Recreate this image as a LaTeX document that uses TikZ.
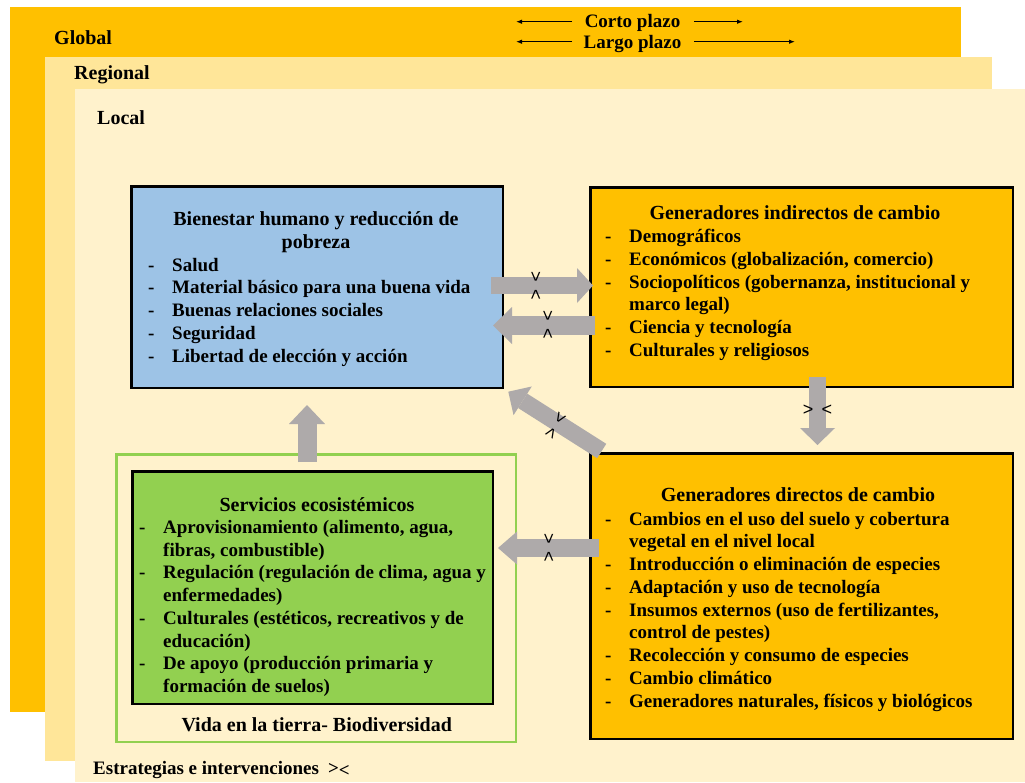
\documentclass[tikz,border=0pt]{standalone}
\usepackage{fontspec}
\setmainfont{Liberation Serif}
\newfontfamily\lsans{Liberation Sans}
\usetikzlibrary{arrows.meta}
\definecolor{cglobal}{HTML}{FFC000}
\definecolor{cregional}{HTML}{FFE699}
\definecolor{clocal}{HTML}{FFF2CC}
\definecolor{cblue}{HTML}{9DC3E6}
\definecolor{cgreen}{HTML}{92D050}
\definecolor{cgray}{HTML}{AEAAAA}
\begin{document}
\begin{tikzpicture}[x=1pt,y=-1pt,
  box/.style={draw=black,line width=2.5pt,inner sep=0pt},
  lbl/.style={inner sep=0pt,anchor=base west,font=\bfseries\fontsize{20}{24}\selectfont},
  ttl/.style={inner sep=0pt,anchor=base,font=\bfseries\fontsize{20}{24}\selectfont},
  lst/.style={inner sep=0pt,anchor=base west,font=\bfseries\fontsize{19}{22.75}\selectfont},
  albl/.style={inner sep=0pt,font=\lsans\fontsize{18}{18}\selectfont},
  thin/.style={line width=1.1pt,-{Latex[length=6pt,width=4.5pt]}},
]
\useasboundingbox (0,0) rectangle (1025,782);
% layers
\fill[cglobal] (10,7) rectangle (961,712);
\fill[cregional] (45,57) rectangle (992,761);
\fill[clocal] (75,89) rectangle (1025,782);
\node[lbl] (glob) at (54,44) {Global};
\node[lbl] (reg) at (74,79) {Regional};
\node[lbl] (loc) at (97,124) {Local};
% time scale
\node[ttl,font=\bfseries\fontsize{19}{22}\selectfont] (corto) at (632.5,27) {Corto plazo};
\node[ttl,font=\bfseries\fontsize{19}{22}\selectfont] (largo) at (632.5,48.5) {Largo plazo};
\coordinate (c1a) at (572,21.7); \coordinate (c1b) at (516,21.7);
\coordinate (c2a) at (694,21.7); \coordinate (c2b) at (743,21.7);
\coordinate (l1a) at (572,41.7); \coordinate (l1b) at (516,41.7);
\coordinate (l2a) at (694,41.7); \coordinate (l2b) at (795,41.7);
\draw[thin] (c1a) -- (c1b);
\draw[thin] (c2a) -- (c2b);
\draw[thin] (l1a) -- (l1b);
\draw[thin] (l2a) -- (l2b);
% boxes
\node[draw=cgreen,line width=2.5pt,inner sep=0pt,minimum width=399.5pt,minimum height=287.5pt] (vida) at (316,598) {};
\node[box,fill=cblue,minimum width=371.5pt,minimum height=201.5pt] (bien) at (317,287) {};
\node[box,fill=cglobal,minimum width=422.5pt,minimum height=199.5pt] (ind) at (801.5,287) {};
\node[box,fill=cglobal,minimum width=422.5pt,minimum height=285.5pt] (dir) at (801.5,596) {};
\node[box,fill=cgreen,minimum width=360.5pt,minimum height=232.5pt] (serv) at (312.5,587.5) {};
% texts
\node[ttl] (bt1) at (316,225) {Bienestar humano y reducción de};
\node[ttl] (bt2) at (316,248) {pobreza};
\node[lst] (bl) at (148,271) {\begin{tabular}[t]{@{}p{24pt}@{}l@{}}
-&Salud\\
-&Material básico para una buena vida\\
-&Buenas relaciones sociales\\
-&Seguridad\\
-&Libertad de elección y acción
\end{tabular}};
\node[ttl] (it) at (795,219.3) {Generadores indirectos de cambio};
\node[lst] (il) at (605,242.5) {\begin{tabular}[t]{@{}p{24pt}@{}l@{}}
-&Demográficos\\
-&Económicos (globalización, comercio)\\
-&Sociopolíticos (gobernanza, institucional y\\
&marco legal)\\
-&Ciencia y tecnología\\
-&Culturales y religiosos
\end{tabular}};
\node[ttl] (dt) at (798,501.7) {Generadores directos de cambio};
\node[lst] (dl) at (605,525) {\begin{tabular}[t]{@{}p{24pt}@{}l@{}}
-&Cambios en el uso del suelo y cobertura\\
&vegetal en el nivel local\\
-&Introducción o eliminación de especies\\
-&Adaptación y uso de tecnología\\
-&Insumos externos (uso de fertilizantes,\\
&control de pestes)\\
-&Recolección y consumo de especies\\
-&Cambio climático\\
-&Generadores naturales, físicos y biológicos
\end{tabular}};
\node[ttl] (st) at (317,511) {Servicios ecosistémicos};
\node[lst] (sl) at (139,533.3) {\begin{tabular}[t]{@{}p{24pt}@{}l@{}}
-&Aprovisionamiento (alimento, agua,\\
&fibras, combustible)\\
-&Regulación (regulación de clima, agua y\\
&enfermedades)\\
-&Culturales (estéticos, recreativos y de\\
&educación)\\
-&De apoyo (producción primaria y\\
&formación de suelos)
\end{tabular}};
\node[ttl] (vt) at (316.7,731) {Vida en la tierra- Biodiversidad};
\node[lst] (est) at (93,774) {Estrategias e intervenciones\hspace{9pt}{>}\raisebox{-2pt}{<}};
% block arrows
\coordinate (a1t) at (491,285.5); \coordinate (a1h) at (593,285.5);
\coordinate (a2t) at (595,325.5); \coordinate (a2h) at (493,325.5);
\coordinate (a3t) at (601.7,451); \coordinate (a3h) at (508.3,391.7);
\coordinate (a4t) at (817.5,377); \coordinate (a4h) at (817.5,445);
\coordinate (a5t) at (307,462); \coordinate (a5h) at (307,405);
\coordinate (a6t) at (599,548); \coordinate (a6h) at (498,548);
\draw[cgray,line width=17pt,-{Triangle[width=35pt,length=16pt,line width=0pt]}] (a1t) -- (a1h);
\draw[cgray,line width=19pt,-{Triangle[width=37pt,length=19pt,line width=0pt]}] (a2t) -- (a2h);
\draw[cgray,line width=17pt,-{Triangle[width=34pt,length=17pt,line width=0pt]}] (a3t) -- (a3h);
\draw[cgray,line width=17pt,-{Triangle[width=35pt,length=17pt,line width=0pt]}] (a4t) -- (a4h);
\draw[cgray,line width=19pt,-{Triangle[width=36pt,length=19pt,line width=0pt]}] (a5t) -- (a5h);
\draw[cgray,line width=18pt,-{Triangle[width=33pt,length=19pt,line width=0pt]}] (a6t) -- (a6h);
\node[albl,rotate=-90] (t1) at (535,286) {>\hspace{7.5pt}<};
\node[albl,rotate=-90] (t2) at (547,325) {>\hspace{7.5pt}<};
\node[albl,rotate=-121.7] (t3) at (555,425) {>\hspace{6.5pt}<};
\node[albl] (t4) at (817.5,410) {>\hspace{8pt}<};
\node[albl,rotate=-90] (t6) at (548,548) {>\hspace{7.5pt}<};
\end{tikzpicture}
\end{document}
